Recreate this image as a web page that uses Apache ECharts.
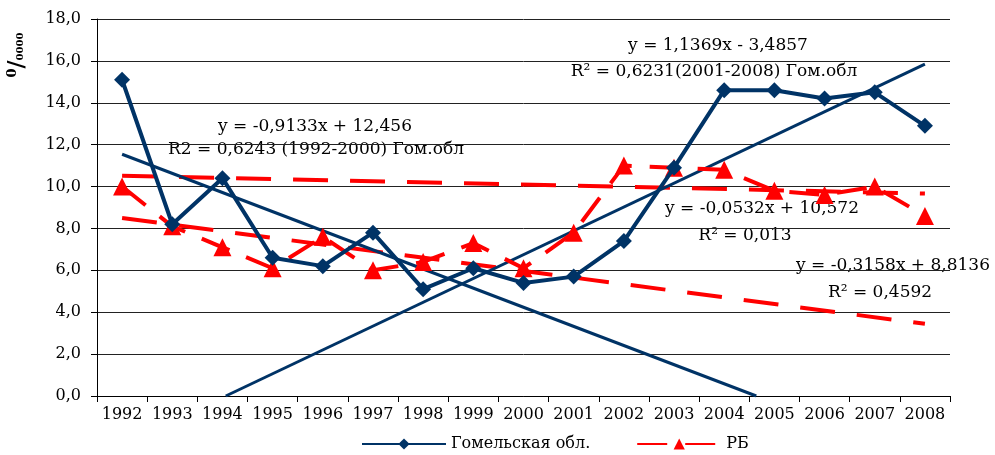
<!DOCTYPE html>
<html><head><meta charset="utf-8">
<script src="https://cdn.jsdelivr.net/npm/echarts@6/dist/echarts.min.js"></script>
<style>html,body{margin:0;padding:0;background:#fff}#c{width:995px;height:455px}</style>
</head><body><div id="c"></div>
<script>
const years = ['1992','1993','1994','1995','1996','1997','1998','1999','2000','2001','2002','2003','2004','2005','2006','2007','2008'];
const gomel = [15.1, 8.2, 10.4, 6.6, 6.2, 7.8, 5.1, 6.1, 5.4, 5.7, 7.4, 10.9, 14.6, 14.6, 14.2, 14.5, 12.9];
const rb = [10.0, 8.1, 7.1, 6.1, 7.6, 6.0, 6.4, 7.3, 6.1, 7.8, 11.0, 10.9, 10.8, 9.8, 9.6, 10.0, 8.6];
// trend line endpoints [x index (1992 = 1), value]
const gomelTrend1 = [[1, 11.543], [13.639, 0]];
const gomelTrend2 = [[3.066, 0], [17, 15.842]];
const rbTrend1 = [[1, 10.519], [17, 9.668]];
const rbTrend2 = [[1, 8.498], [17, 3.445]];
const yTicks = {min: 0, max: 18, interval: 2};

const FONT = "'DejaVu Serif',serif";
const NAVY = '#003366';
const RED = '#ff0000';

const chart = echarts.init(document.getElementById('c'));
const annot = (x, y, text) => ({
  type: 'text', x: x, y: y,
  style: {text: text, font: '17px ' + FONT, fill: '#000', textAlign: 'center', textVerticalAlign: 'middle'}
});
chart.setOption({
  animation: false,
  grid: {left: 97, right: 45, top: 19, bottom: 59, containLabel: false},
  legend: {
    data: ['Гомельская обл.', 'РБ'],
    left: 356, top: 431, itemWidth: 84, itemHeight: 14, itemGap: 46,
    textStyle: {fontFamily: FONT, fontSize: 16, color: '#000'}
  },
  xAxis: [{
    type: 'category', data: years, boundaryGap: true,
    axisLine: {lineStyle: {color: '#000', width: 1}},
    axisTick: {show: true, length: 6, lineStyle: {color: '#000'}},
    axisLabel: {fontFamily: FONT, fontSize: 16, color: '#000', margin: 11, interval: 0}
  }, {
    type: 'value', min: 0.5, max: 17.5, show: false
  }],
  yAxis: {
    type: 'value', min: yTicks.min, max: yTicks.max, interval: yTicks.interval,
    axisLine: {show: true, lineStyle: {color: '#000'}},
    axisTick: {show: true, length: 6, lineStyle: {color: '#000'}},
    splitLine: {lineStyle: {color: '#222', width: 1}},
    axisLabel: {fontFamily: FONT, fontSize: 16, color: '#000', margin: 16,
      formatter: v => v.toFixed(1).replace('.', ',')}
  },
  graphic: [
    {
      type: 'text', x: 17, y: 55, rotation: Math.PI / 2,
      style: {
        text: '{a|0}{b|/}{c|0000}', textAlign: 'center', textVerticalAlign: 'middle',
        rich: {
          a: {font: 'bold 13px ' + FONT, fill: '#000', padding: [0, 0, 8, 0]},
          b: {font: 'bold 22px ' + FONT, fill: '#000'},
          c: {font: 'bold 10px ' + FONT, fill: '#000', padding: [6, 0, 0, 0]}
        }
      }
    },
    annot(718, 46, 'y = 1,1369x - 3,4857'),
    annot(714, 72, 'R² = 0,6231(2001-2008) Гом.обл'),
    annot(315, 127, 'y = -0,9133x + 12,456'),
    annot(316, 150, 'R2 = 0,6243 (1992-2000) Гом.обл'),
    annot(762, 209, 'y = -0,0532x + 10,572'),
    annot(745, 236, 'R² = 0,013'),
    annot(893, 266, 'y = -0,3158x + 8,8136'),
    annot(880, 293, 'R² = 0,4592')
  ],
  series: [
    {type: 'line', xAxisIndex: 1, data: rbTrend1, symbol: 'none', silent: true, z: 2,
      lineStyle: {color: RED, width: 4, type: [35, 22]}},
    {type: 'line', xAxisIndex: 1, data: rbTrend2, symbol: 'none', silent: true, z: 2,
      lineStyle: {color: RED, width: 4, type: [35, 22]}},
    {type: 'line', xAxisIndex: 1, data: gomelTrend1, symbol: 'none', silent: true, z: 3,
      lineStyle: {color: NAVY, width: 3}},
    {type: 'line', xAxisIndex: 1, data: gomelTrend2, symbol: 'none', silent: true, z: 3,
      lineStyle: {color: NAVY, width: 3}},
    {name: 'РБ', type: 'line', data: rb, symbol: 'triangle', symbolSize: 18, z: 4,
      itemStyle: {color: RED}, lineStyle: {color: RED, width: 4, type: [30, 18]}},
    {name: 'Гомельская обл.', type: 'line', data: gomel, symbol: 'diamond', symbolSize: 16, z: 5,
      itemStyle: {color: NAVY}, lineStyle: {color: NAVY, width: 4}}
  ]
});
</script></body></html>
